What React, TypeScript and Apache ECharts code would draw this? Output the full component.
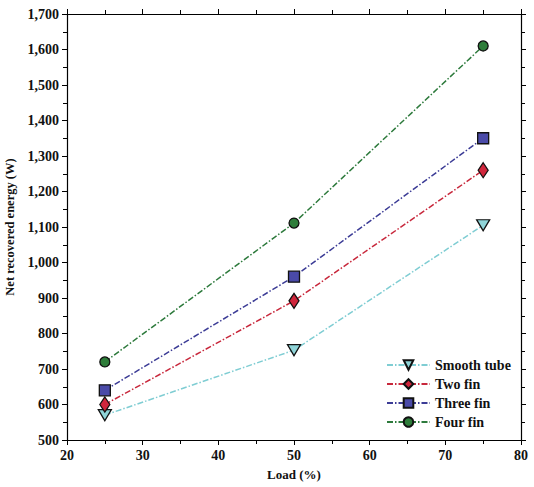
import React, { useEffect, useRef } from "react";
import * as echarts from "echarts";

const loads = [25, 50, 75];
const smoothTube = [570, 753, 1105];
const twoFin = [600, 892, 1260];
const threeFin = [640, 960, 1350];
const fourFin = [720, 1111, 1610];
const seriesNames = ["Smooth tube", "Two fin", "Three fin", "Four fin"];

const FONT = "Liberation Serif";
const dashDot = [6, 2, 1.5, 2];

export default function App() {
  const ref = useRef<HTMLDivElement>(null);
  useEffect(() => {
    if (!ref.current) return;
    const chart = echarts.init(ref.current, null, { renderer: "svg" });
    const pair = (vals: number[]) => loads.map((x, i) => [x, vals[i]]);
    const mkSeries = (
      name: string,
      vals: number[],
      color: string,
      fill: string,
      symbol: string,
      size: any,
      rotate = 0
    ) => ({
      name,
      type: "line",
      data: pair(vals),
      symbol,
      symbolSize: size,
      symbolRotate: rotate,
      lineStyle: { color, width: 1.5, type: dashDot },
      itemStyle: { color: fill, borderColor: "#111", borderWidth: 1.3 },
      z: 3,
    });
    const axisCommon = {
      axisLine: { show: true, onZero: false, lineStyle: { color: "#000", width: 1.2 } },
      axisTick: { show: true, inside: false, length: 5, lineStyle: { color: "#000", width: 1 } },
      minorTick: { show: true, splitNumber: 2, length: 4, lineStyle: { color: "#000", width: 1 } },
      splitLine: { show: false },
    };
    const labelStyle = { fontFamily: FONT, fontWeight: "bold", fontSize: 14, color: "#111" };
    chart.setOption({
      animation: false,
      backgroundColor: "#fff",
      grid: {
        left: 67,
        right: 13,
        top: 14,
        bottom: 47,
        containLabel: false,
        outerBoundsMode: "none",
      },
      legend: {
        orient: "vertical",
        left: 386,
        top: 358,
        padding: 0,
        itemGap: 5,
        itemWidth: 43,
        itemHeight: 12,
        data: seriesNames,
        textStyle: { ...labelStyle, fontSize: 14 },
      },
      xAxis: [
        {
          type: "value",
          min: 20,
          max: 80,
          interval: 10,
          position: "bottom",
          name: "Load (%)",
          nameLocation: "middle",
          nameGap: 28,
          nameTextStyle: { ...labelStyle, fontSize: 13 },
          axisLabel: { ...labelStyle, margin: 8 },
          ...axisCommon,
        },
        {
          type: "value",
          min: 20,
          max: 80,
          interval: 10,
          position: "top",
          axisLabel: { show: false },
          ...axisCommon,
        },
      ],
      yAxis: [
        {
          type: "value",
          min: 500,
          max: 1700,
          interval: 100,
          position: "left",
          name: "Net recovered energy (W)",
          nameLocation: "middle",
          nameGap: 49,
          nameTextStyle: { ...labelStyle, fontSize: 12.5 },
          axisLabel: {
            ...labelStyle,
            margin: 8,
            formatter: (v: number) => v.toLocaleString("en-US"),
          },
          ...axisCommon,
        },
        {
          type: "value",
          min: 500,
          max: 1700,
          interval: 100,
          position: "right",
          axisLabel: { show: false },
          ...axisCommon,
        },
      ],
      series: [
        mkSeries("Smooth tube", smoothTube, "#7fcdd3", "#8fd4d8", "triangle", [13, 11], 180),
        mkSeries("Two fin", twoFin, "#c8283c", "#d0263c", "diamond", [10, 15]),
        mkSeries("Three fin", threeFin, "#3c3c96", "#4a4aa8", "rect", 11),
        mkSeries("Four fin", fourFin, "#2d7a3c", "#2e7d3a", "circle", 10),
      ],
    });
    return () => chart.dispose();
  }, []);
  return (
    <div
      ref={ref}
      style={{ position: "absolute", left: 0, top: 0, width: 534, height: 487 }}
    />
  );
}
